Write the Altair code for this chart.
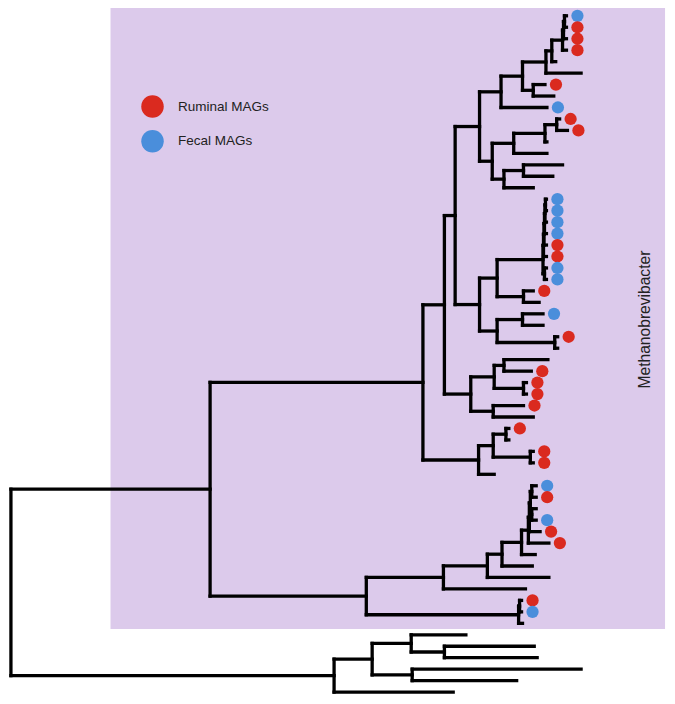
import altair as alt
import pandas as pd

# ---------------- data ----------------
# Tree topology with branch lengths, leaves top-to-bottom L01..L60
CLADE_TOP = (
    "(((((((((((L01:2,L02:2):1,L03:3):1,L04:4):11,L05:4):6,L06:36):24,(L07:12,L08:21):11):22,L09:47):22,"
    "((((L10:3,L11:11):12,L12:2):32,L13:34):22,((L14:40,L15:30):20,L16:30):12):13):25,"
    "((((((((L17:1,L18:1):0.5,L19:1.5):0.5,L20:2):0.5,L21:2.5):0.5,L22:3):0.5,(L23:2,L24:2):1.5):47,"
    "(L25:10,L26:16):27):18,((L27:21,L28:21):26,(L29:3,L30:3):59):18):25):11,"
    "(((L31:45,L32:28):10,(L33:3,L34:3):30):24,(L35:31,L36:41):23):27):22,"
    "(((L37:3,L38:3):13,(L39:3,L40:3):38):15,L41:16):57)"
)
CLADE_BOTTOM = (
    "(((((((((L42:4.5,L43:4.5):1.5,(L44:4.5,L45:4.5):1.5):1,L46:11):1,L47:21):7,L48:14):20,L49:31):15,"
    "L50:63):45,L51:84):79,((L52:2,L53:2):1,L54:4):156)"
)
OUTGROUP = "(((L55:56,(L56:92,L57:95):34):40,(L58:173,L59:107):41):39,L60:122)"
NEWICK = "((" + CLADE_TOP + ":218," + CLADE_BOTTOM + ":160):204," + OUTGROUP + ":331);"

R, F, N = "Ruminal MAGs", "Fecal MAGs", ""
leaf_group = [
    F, R, R, R, N, N, R, N, F, R,
    R, N, N, N, N, N, F, F, F, F,
    R, R, F, F, R, N, F, N, R, N,
    N, R, R, R, R, N, R, N, R, R,
    N, F, R, N, F, R, R, N, N, N,
    N, R, F, N, N, N, N, N, N, N,
]
legend_labels = ["Ruminal MAGs", "Fecal MAGs"]
legend_colors = ["#DA2A1F", "#4A8EDB"]
clade_name = "Methanobrevibacter"
clade_leaf_count = 54

# ---------------- parse & layout ----------------
def parse(s):
    s = s.replace(" ", "").rstrip(";")
    pos = 0

    def node():
        nonlocal pos
        children = []
        if s[pos] == "(":
            pos += 1
            while True:
                children.append(node())
                if s[pos] == ",":
                    pos += 1
                    continue
                pos += 1  # ')'
                break
        start = pos
        while pos < len(s) and s[pos] not in ",():":
            pos += 1
        name = s[start:pos]
        length = 0.0
        if pos < len(s) and s[pos] == ":":
            pos += 1
            start = pos
            while pos < len(s) and s[pos] not in ",()":
                pos += 1
            length = float(s[start:pos])
        return {"name": name, "len": length, "children": children}

    return node()


root = parse(NEWICK)
leaves = []


def layout(n, depth):
    n["x"] = depth + n["len"]
    if not n["children"]:
        n["y"] = len(leaves)
        leaves.append(n)
    else:
        for c in n["children"]:
            layout(c, n["x"])
        n["y"] = (n["children"][0]["y"] + n["children"][-1]["y"]) / 2


layout(root, 0.0)

segs = []


def collect(n, parent_x):
    if parent_x is not None:
        segs.append(dict(x=parent_x, x2=n["x"], y=n["y"], y2=n["y"]))
    if n["children"]:
        segs.append(dict(x=n["x"], x2=n["x"], y=n["children"][0]["y"], y2=n["children"][-1]["y"]))
        for c in n["children"]:
            collect(c, n["x"])


collect(root, None)
seg_df = pd.DataFrame(segs)

tips = pd.DataFrame(
    [dict(x=l["x"], y=l["y"], group=g) for l, g in zip(leaves, leaf_group) if g]
)

n_leaves = len(leaves)
X_DOM = [-3, 672]
Y_DOM = [-0.68, n_leaves - 1 + 0.34]

clade = root["children"][0]
hl = pd.DataFrame([dict(
    x=clade["len"] / 2, x2=X_DOM[1] - 2,
    y=Y_DOM[0], y2=clade_leaf_count - 1 + 0.5,
)])
lab = pd.DataFrame([dict(x=X_DOM[1] - 23, y=(clade_leaf_count - 1) / 2, text=clade_name)])

xs = alt.Scale(domain=X_DOM, nice=False, zero=False)
ys = alt.Scale(domain=Y_DOM, nice=False, zero=False, reverse=True)

rect = alt.Chart(hl).mark_rect(color="#DCCAEB").encode(
    x=alt.X("x:Q", scale=xs, axis=None), x2="x2:Q",
    y=alt.Y("y:Q", scale=ys, axis=None), y2="y2:Q",
)

rules = alt.Chart(seg_df).mark_rule(color="black", strokeWidth=3.3, strokeCap="square").encode(
    x=alt.X("x:Q", scale=xs, axis=None), x2="x2:Q",
    y=alt.Y("y:Q", scale=ys, axis=None), y2="y2:Q",
)

pts = alt.Chart(tips).mark_point(filled=True, opacity=1, size=150, shape="circle", strokeWidth=0).encode(
    x=alt.X("x:Q", scale=xs, axis=None),
    y=alt.Y("y:Q", scale=ys, axis=None),
    xOffset=alt.value(11),
    color=alt.Color(
        "group:N",
        scale=alt.Scale(domain=legend_labels, range=legend_colors),
        legend=alt.Legend(
            title=None, orient="none", legendX=133, legendY=87,
            symbolType="circle", symbolSize=506, symbolStrokeWidth=0, symbolOpacity=1,
            labelFontSize=13.5, labelFont="Liberation Sans", labelColor="#222222",
            rowPadding=11.7, labelOffset=14, padding=0,
        ),
    ),
)

text = alt.Chart(lab).mark_text(
    angle=270, align="center", baseline="middle", fontSize=15.6,
    font="Liberation Sans", color="#222222",
).encode(
    x=alt.X("x:Q", scale=xs, axis=None),
    y=alt.Y("y:Q", scale=ys, axis=None),
    text="text:N",
)

chart = alt.layer(rect, rules, pts, text).properties(
    width=659, height=688, padding=0, autosize="none", background="white",
).configure_view(stroke=None)

chart.save("out.html", embed_options={"renderer": "svg", "actions": False})
